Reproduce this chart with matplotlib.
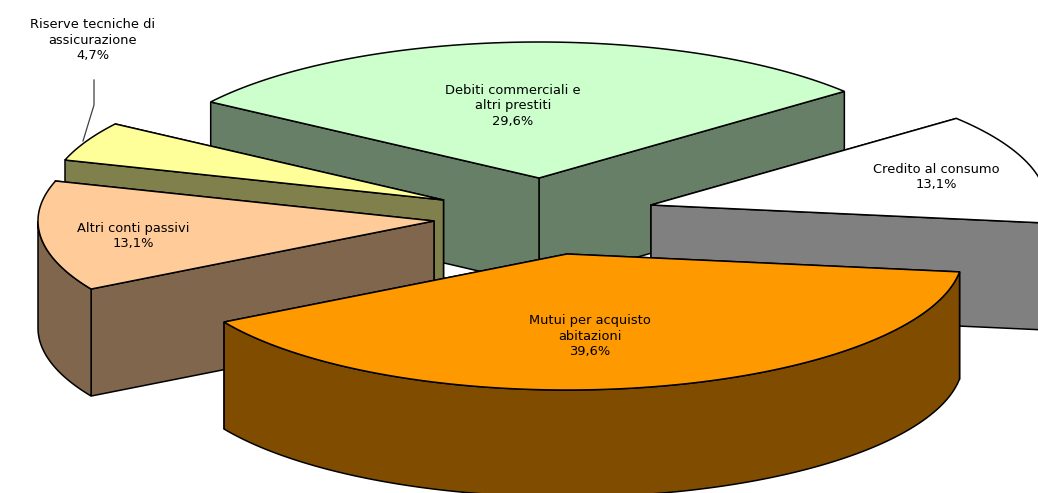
import numpy as np
import matplotlib
matplotlib.use("Agg")
import matplotlib.pyplot as plt
from matplotlib.patches import Polygon

# values, clockwise from the first slice
labels = ["Debiti commerciali e\naltri prestiti", "Credito al consumo",
          "Mutui per acquisto\nabitazioni", "Altri conti passivi",
          "Riserve tecniche di\nassicurazione"]
values = [29.6, 13.1, 39.6, 13.1, 4.7]
pct_labels = ["29,6%", "13,1%", "39,6%", "13,1%", "4,7%"]

# layout of the exploded pie, in pixels
top_colors = ["#CCFFCC", "#FFFFFF", "#FF9900", "#FFCC99", "#FFFF99"]
apex_x = [539, 651, 567, 434, 443.5]
apex_y = [178, 205, 254, 221, 200]
label_x = [513, 936, 590, 133, 93]
label_y = [106, 177, 336, 236, 40]
draw_order = [0, 1, 4, 3, 2]
radius_x = 396
radius_y = 136
depth = 107
start_angle = 146


def rim(i, t):
    t = np.radians(t)
    return apex_x[i] + radius_x * np.cos(t), apex_y[i] - radius_y * np.sin(t)


def darker(color):
    return tuple(c * 0.5 for c in matplotlib.colors.to_rgb(color))


fig = plt.figure(figsize=(10.38, 4.93), dpi=100)
ax = fig.add_axes([0, 0, 1, 1])
ax.set_xlim(0, 1038)
ax.set_ylim(493, 0)
ax.axis("off")

sweeps = np.array(values) / sum(values) * 360
ends = start_angle - np.cumsum(sweeps)
starts = ends + sweeps

for i in draw_order:
    wall = dict(facecolor=darker(top_colors[i]), edgecolor="black", linewidth=1.1)
    if i == 0:
        wall["facecolor"] = "#667F66"

    # flat cut walls, the one lower in the picture goes last
    cuts = sorted([starts[i], ends[i]], key=lambda t: rim(i, t)[1])
    for t in cuts:
        x, y = rim(i, t)
        ax.add_patch(Polygon([(apex_x[i], apex_y[i]), (x, y), (x, y + depth),
                              (apex_x[i], apex_y[i] + depth)], **wall))

    # outer band, only the front half can be seen
    t = np.linspace(starts[i], ends[i], 200)
    t = t[np.sin(np.radians(t)) <= 0]
    if len(t) > 1:
        x, y = rim(i, t)
        ax.add_patch(Polygon(np.r_[np.c_[x, y], np.c_[x, y + depth][::-1]], **wall))

    # top surface
    t = np.linspace(starts[i], ends[i], 200)
    x, y = rim(i, t)
    pts = np.r_[[(apex_x[i], apex_y[i])], np.c_[x, y]]
    ax.add_patch(Polygon(pts, facecolor=top_colors[i], edgecolor="black", linewidth=1.1))

for i in range(len(values)):
    ax.text(label_x[i], label_y[i], labels[i] + "\n" + pct_labels[i], ha="center",
            va="center", fontsize=9.4, color="black", family="DejaVu Sans",
            linespacing=1.25)

# leader line of the small slice
ax.plot([94, 94, 83], [80, 105, 141], color="#404040", linewidth=0.9)

fig.savefig("out.png", dpi=100)
